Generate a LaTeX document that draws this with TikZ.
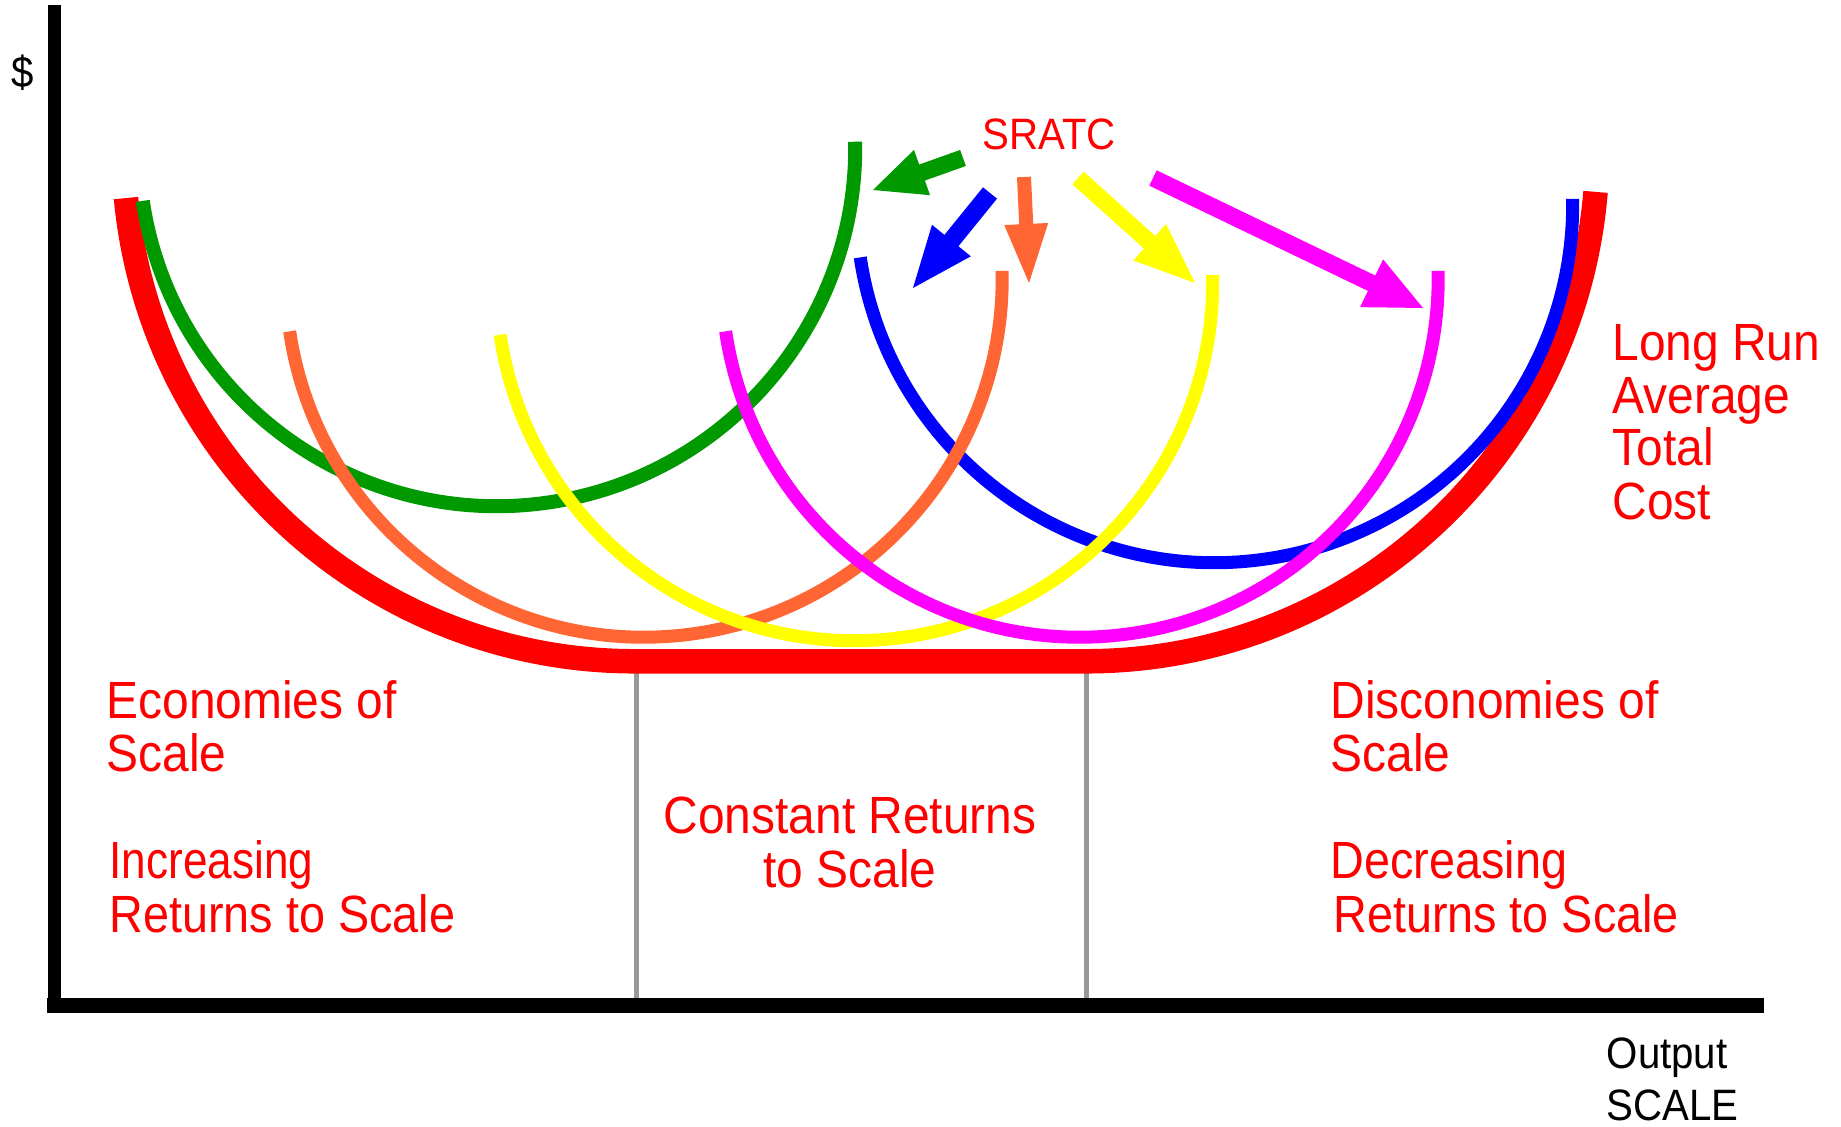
\documentclass[tikz,border=0pt]{standalone}
\usepackage{fontspec}
\setmainfont{Liberation Sans}
\newfontfamily\lbl[FakeStretch=0.915]{Liberation Sans}
\usetikzlibrary{calc}
\definecolor{lrred}{HTML}{FF0000}
\definecolor{srgreen}{HTML}{009900}
\definecolor{srorange}{HTML}{FF6633}
\definecolor{sryellow}{HTML}{FFFF00}
\definecolor{srmagenta}{HTML}{FF00FF}
\definecolor{srblue}{HTML}{0000FF}
\definecolor{divgray}{HTML}{999999}
% fat block arrow: colour, tail, tip, half shaft width, half head width, head length
\newcommand\fatarr[6]{%
  \path ($(#3)!#6!(#2)$) coordinate (#2b);
  \fill[#1] ($(#2)!#4!90:(#3)$) -- ($(#2b)!#4!-90:(#2)$) -- ($(#2b)!#5!-90:(#2)$)
    -- (#3) -- ($(#2b)!#5!90:(#2)$) -- ($(#2b)!#4!90:(#2)$) -- ($(#2)!#4!-90:(#3)$) -- cycle;
}
\begin{document}
\begin{tikzpicture}[x=0.01cm,y=0.01cm,
  big/.style={font=\lbl\fontsize{14.9pt}{15pt}\selectfont, text=lrred, inner sep=0pt, anchor=base west},
  bigc/.style={big, anchor=base},
  small/.style={font=\lbl\fontsize{12.5pt}{13pt}\selectfont, inner sep=0pt, anchor=base west},
  axis/.style={draw=black, line width=0.14cm},
  divider/.style={draw=divgray, line width=0.05cm},
  lr/.style={draw=lrred, line width=0.245cm},
  sr/.style={line width=0.13cm}]
\useasboundingbox (0,0) rectangle (1841,1127);
\fill[white] (0,0) rectangle (1841,1127);

% dividers
\draw[divider] (636,470) -- (636,121.5);
\draw[divider] (1086,470) -- (1086,121.5);

% axes
\draw[axis, line width=0.13cm] (54.5,1122) -- (54.5,114);
\draw[axis, line width=0.15cm] (47,121.5) -- (1764,121.5);

% long run average total cost
\draw[lr] ([shift={(635,977)}]185.4:5.11cm) arc[start angle=185.4,end angle=270,radius=5.11cm]
  -- ++(451,0) arc[start angle=270,end angle=355.3,radius=5.11cm];

% short run curves
\draw[sr, srblue] ([shift={(1214.5,922.5)}]188.5:3.58cm) arc[start angle=188.5,end angle=360.9,radius=3.58cm];
\draw[sr, srgreen, line width=0.14cm] ([shift={(497,979)}]188.5:3.58cm) arc[start angle=188.5,end angle=361,radius=3.58cm];
\draw[sr, srorange] ([shift={(644,848)}]188.4:3.58cm) arc[start angle=188.4,end angle=361.3,radius=3.58cm];
\draw[sr, sryellow] ([shift={(854.5,844.5)}]188.4:3.58cm) arc[start angle=188.4,end angle=361.2,radius=3.58cm];
\draw[sr, srmagenta] ([shift={(1080,848)}]188.4:3.58cm) arc[start angle=188.4,end angle=361.3,radius=3.58cm];

% arrows from the SRATC label
\coordinate (gT) at (963,969);  \coordinate (gP) at (873,937);
\coordinate (bT) at (990,934);  \coordinate (bP) at (913,839);
\coordinate (oT) at (1024,950); \coordinate (oP) at (1029,844);
\coordinate (yT) at (1078,949); \coordinate (yP) at (1195,844);
\coordinate (mT) at (1153,949); \coordinate (mP) at (1423,819);
\fatarr{srgreen}{gT}{gP}{0.085cm}{0.24cm}{0.52cm}
\fatarr{srblue}{bT}{bP}{0.09cm}{0.25cm}{0.61cm}
\fatarr{srorange}{oT}{oP}{0.07cm}{0.22cm}{0.59cm}
\fatarr{sryellow}{yT}{yP}{0.085cm}{0.245cm}{0.61cm}
\fatarr{srmagenta}{mT}{mP}{0.085cm}{0.265cm}{0.57cm}

% labels
\node[small, text=lrred] (sratc) at (981.7,977) {SRATC};
\node[small, anchor=base] (dollar) at (23,1039) {\$};
\node[small] (output) at (1606,58) {Output};
\node[small] (scale) at (1606,6) {SCALE};

\node[big] (lr1) at (1611.7,766) {Long Run};
\node[big] (lr2) at (1611.7,713.7) {Average};
\node[big] (lr3) at (1611.7,661.3) {Total};
\node[big] (lr4) at (1611.7,607.7) {Cost};

\node[big] (ec1) at (105.7,408.7) {Economies of};
\node[big] (ec2) at (105.7,355.6) {Scale};
\node[big] (ir1) at (109,248) {\scalebox{0.92}[1]{Increasing}};
\node[big] (ir2) at (109,194.9) {\scalebox{0.975}[1]{Returns to Scale}};

\node[bigc] (cr1) at (850,293.4) {Constant Returns};
\node[bigc] (cr2) at (850,239.6) {to Scale};

\node[big] (dc1) at (1330,408.7) {Disconomies of};
\node[big] (dc2) at (1330,355.6) {Scale};
\node[big] (dr1) at (1330,248) {\scalebox{0.975}[1]{Decreasing}};
\node[big] (dr2) at (1332.6,194.9) {\scalebox{0.975}[1]{Returns to Scale}};
\end{tikzpicture}
\end{document}
